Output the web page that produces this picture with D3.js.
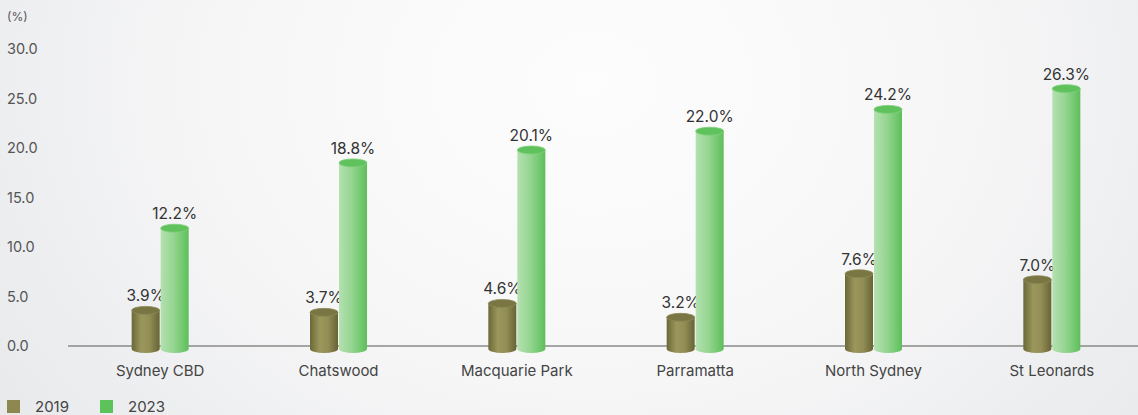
<!DOCTYPE html>
<html><head><meta charset="utf-8">
<script src="https://cdn.jsdelivr.net/npm/d3@7"></script>
<style>body{margin:0;overflow:hidden}svg{display:block}</style>
</head><body>
<svg id="c" width="1138" height="415"></svg>
<script>
const categories = ["Sydney CBD","Chatswood","Macquarie Park","Parramatta","North Sydney","St Leonards"];
const values2019 = [3.9,3.7,4.6,3.2,7.6,7.0];
const values2023 = [12.2,18.8,20.1,22.0,24.2,26.3];
const seriesNames = ["2019","2023"];
const yTicks = [0,5,10,15,20,25,30];

const svg = d3.select("#c");
const W = 1138, H = 415;
const FONT = "Inter, 'Noto Sans', sans-serif";
const defs = svg.append("defs");
const bg = defs.append("radialGradient").attr("id","bg").attr("cx","0.52").attr("cy","0.2").attr("r","0.75")
  .attr("gradientTransform","translate(0.52,0.2) scale(1,2.2) translate(-0.52,-0.2)");
bg.append("stop").attr("offset","0%").attr("stop-color","#fdfdfd");
bg.append("stop").attr("offset","45%").attr("stop-color","#f6f6f7");
bg.append("stop").attr("offset","100%").attr("stop-color","#e2e4e6");
svg.append("rect").attr("width",W).attr("height",H).attr("fill","url(#bg)");

function lin(id, stops){
  const g = defs.append("linearGradient").attr("id",id).attr("x1","0").attr("x2","1").attr("y1","0").attr("y2","0");
  stops.forEach(s=>g.append("stop").attr("offset",s[0]).attr("stop-color",s[1]));
}
lin("g19",[["0%","#6b6838"],["35%","#9b975c"],["65%","#918d54"],["100%","#686335"]]);
lin("g23",[["0%","#b4e1b0"],["45%","#96d592"],["85%","#6cc669"],["100%","#5fbd5b"]]);

const x = d3.scaleBand().domain(categories).range([71,1141]);
const y = d3.scaleLinear().domain([0,30]).range([346,49]);
const bw = 28;

// y tick labels
svg.append("g").selectAll("text").data(yTicks).join("text")
  .attr("x",7).attr("y",d=>y(d)+5).text(d=>d.toFixed(1))
  .attr("font-family",FONT).attr("font-size",14.5).attr("fill","#555");
svg.append("text").attr("x",7).attr("y",21).text("(%)")
  .attr("font-family",FONT).attr("font-size",12).attr("fill","#555");

// axis line
svg.append("line").attr("x1",68).attr("x2",1138).attr("y1",y(0)).attr("y2",y(0))
  .attr("stroke","#8a8a8a").attr("stroke-width",1.5);

// x labels
const xAxis = d3.axisBottom(x).tickSize(0).tickPadding(0);
const gx = svg.append("g").attr("transform",`translate(0,${y(0)+30})`).call(xAxis);
gx.select(".domain").remove();
gx.selectAll("text").attr("font-family",FONT).attr("font-size",15).attr("fill","#444").attr("dy",0);

const ry = 4;
function cyl(g, cx, v, grad, topFill, rim){
  const yt = y(v)+3, yb = y(0)+3;
  const l = cx - bw/2, r = cx + bw/2;
  g.append("path").attr("d",`M${l},${yt} L${l},${yb} A${bw/2},${ry} 0 0 0 ${r},${yb} L${r},${yt} Z`).attr("fill",`url(#${grad})`);
  g.append("ellipse").attr("cx",cx).attr("cy",yt).attr("rx",bw/2).attr("ry",ry).attr("fill",topFill).attr("stroke",rim).attr("stroke-width",0.8);
}
const data = categories.map((c,i)=>({c, v:[values2019[i], values2023[i]]}));
const gs = svg.append("g");
data.forEach(d=>{
  const cx0 = x(d.c)+x.bandwidth()/2;
  const cxs = [cx0 - bw/2 - 0.5, cx0 + bw/2 + 0.5];
  [0,1].forEach(k=>{
    const g = gs.append("g");
    if(k===0) cyl(g, cxs[0], d.v[0], "g19", "#7a7644", "#8e8a55");
    else cyl(g, cxs[1], d.v[1], "g23", "#60c25d", "#7fd07b");
    g.append("text").attr("x",cxs[k]).attr("y",y(d.v[k])-6).attr("text-anchor","middle")
      .attr("font-family",FONT).attr("font-size",15.5).attr("fill","#333")
      .text(d.v[k].toFixed(1)+"%");
  });
});

// legend
const leg = svg.append("g");
const legX = [7,100];
const legC = ["#8c8850","#5cc25a"];
seriesNames.forEach((s,i)=>{
  leg.append("rect").attr("x",legX[i]).attr("y",400).attr("width",13).attr("height",13).attr("fill",legC[i]);
  leg.append("text").attr("x",legX[i]+28).attr("y",412).text(s)
    .attr("font-family",FONT).attr("font-size",15).attr("fill","#444");
});
</script>
</body></html>
